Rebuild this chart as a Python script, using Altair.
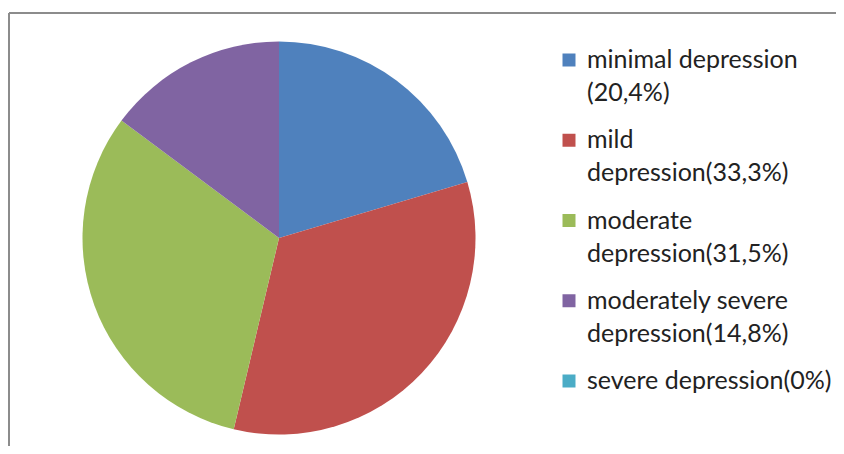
import altair as alt
import pandas as pd

categories = ["minimal depression", "mild depression", "moderate depression",
              "moderately severe depression", "severe depression"]
values = [20.4, 33.3, 31.5, 14.8, 0.0]
labels = ["minimal depression\n(20,4%)", "mild\ndepression(33,3%)",
          "moderate\ndepression(31,5%)", "moderately severe\ndepression(14,8%)",
          "severe depression(0%)"]
colors = ["#4F81BD", "#C0504D", "#9BBB59", "#8064A2", "#4BACC6"]

df = pd.DataFrame({"category": categories, "value": values, "label": labels,
                   "idx": list(range(len(categories)))})

color = alt.Color("category:N", scale=alt.Scale(domain=categories, range=colors), legend=None)
ypos = alt.Y("category:N", scale=alt.Scale(type="point", domain=categories, range=[52, 373], padding=0), axis=None)

base = alt.Chart(df)

pie = base.mark_arc(outerRadius=196.5).encode(
    theta=alt.Theta("value:Q", stack=True),
    color=color,
    order=alt.Order("idx:Q"),
    x=alt.value(271),
    y=alt.value(230),
)

squares = base.mark_square(size=169, opacity=1, filled=True).encode(
    x=alt.value(561), y=ypos, color=color)

texts = base.mark_text(align="left", baseline="alphabetic", dy=8, lineBreak="\n",
                       lineHeight=33, font="Lato", fontSize=25, color="#222222").encode(
    x=alt.value(579), y=ypos, text="label:N")

frame_top = alt.Chart(alt.Data(values=[{}])).mark_rule(color="#8c8c8c", strokeWidth=2).encode(
    x=alt.value(1), x2=alt.value(828), y=alt.value(5))
frame_left = alt.Chart(alt.Data(values=[{}])).mark_rule(color="#8c8c8c", strokeWidth=2).encode(
    x=alt.value(1), y=alt.value(5), y2=alt.value(438))

chart = alt.layer(pie, squares, texts, frame_top, frame_left).properties(
    width=828, height=438, padding=0,
    autosize=alt.AutoSizeParams(type="none"),
).configure_view(stroke=None)

chart.save("out.html", embed_options={"renderer": "svg", "actions": False})
